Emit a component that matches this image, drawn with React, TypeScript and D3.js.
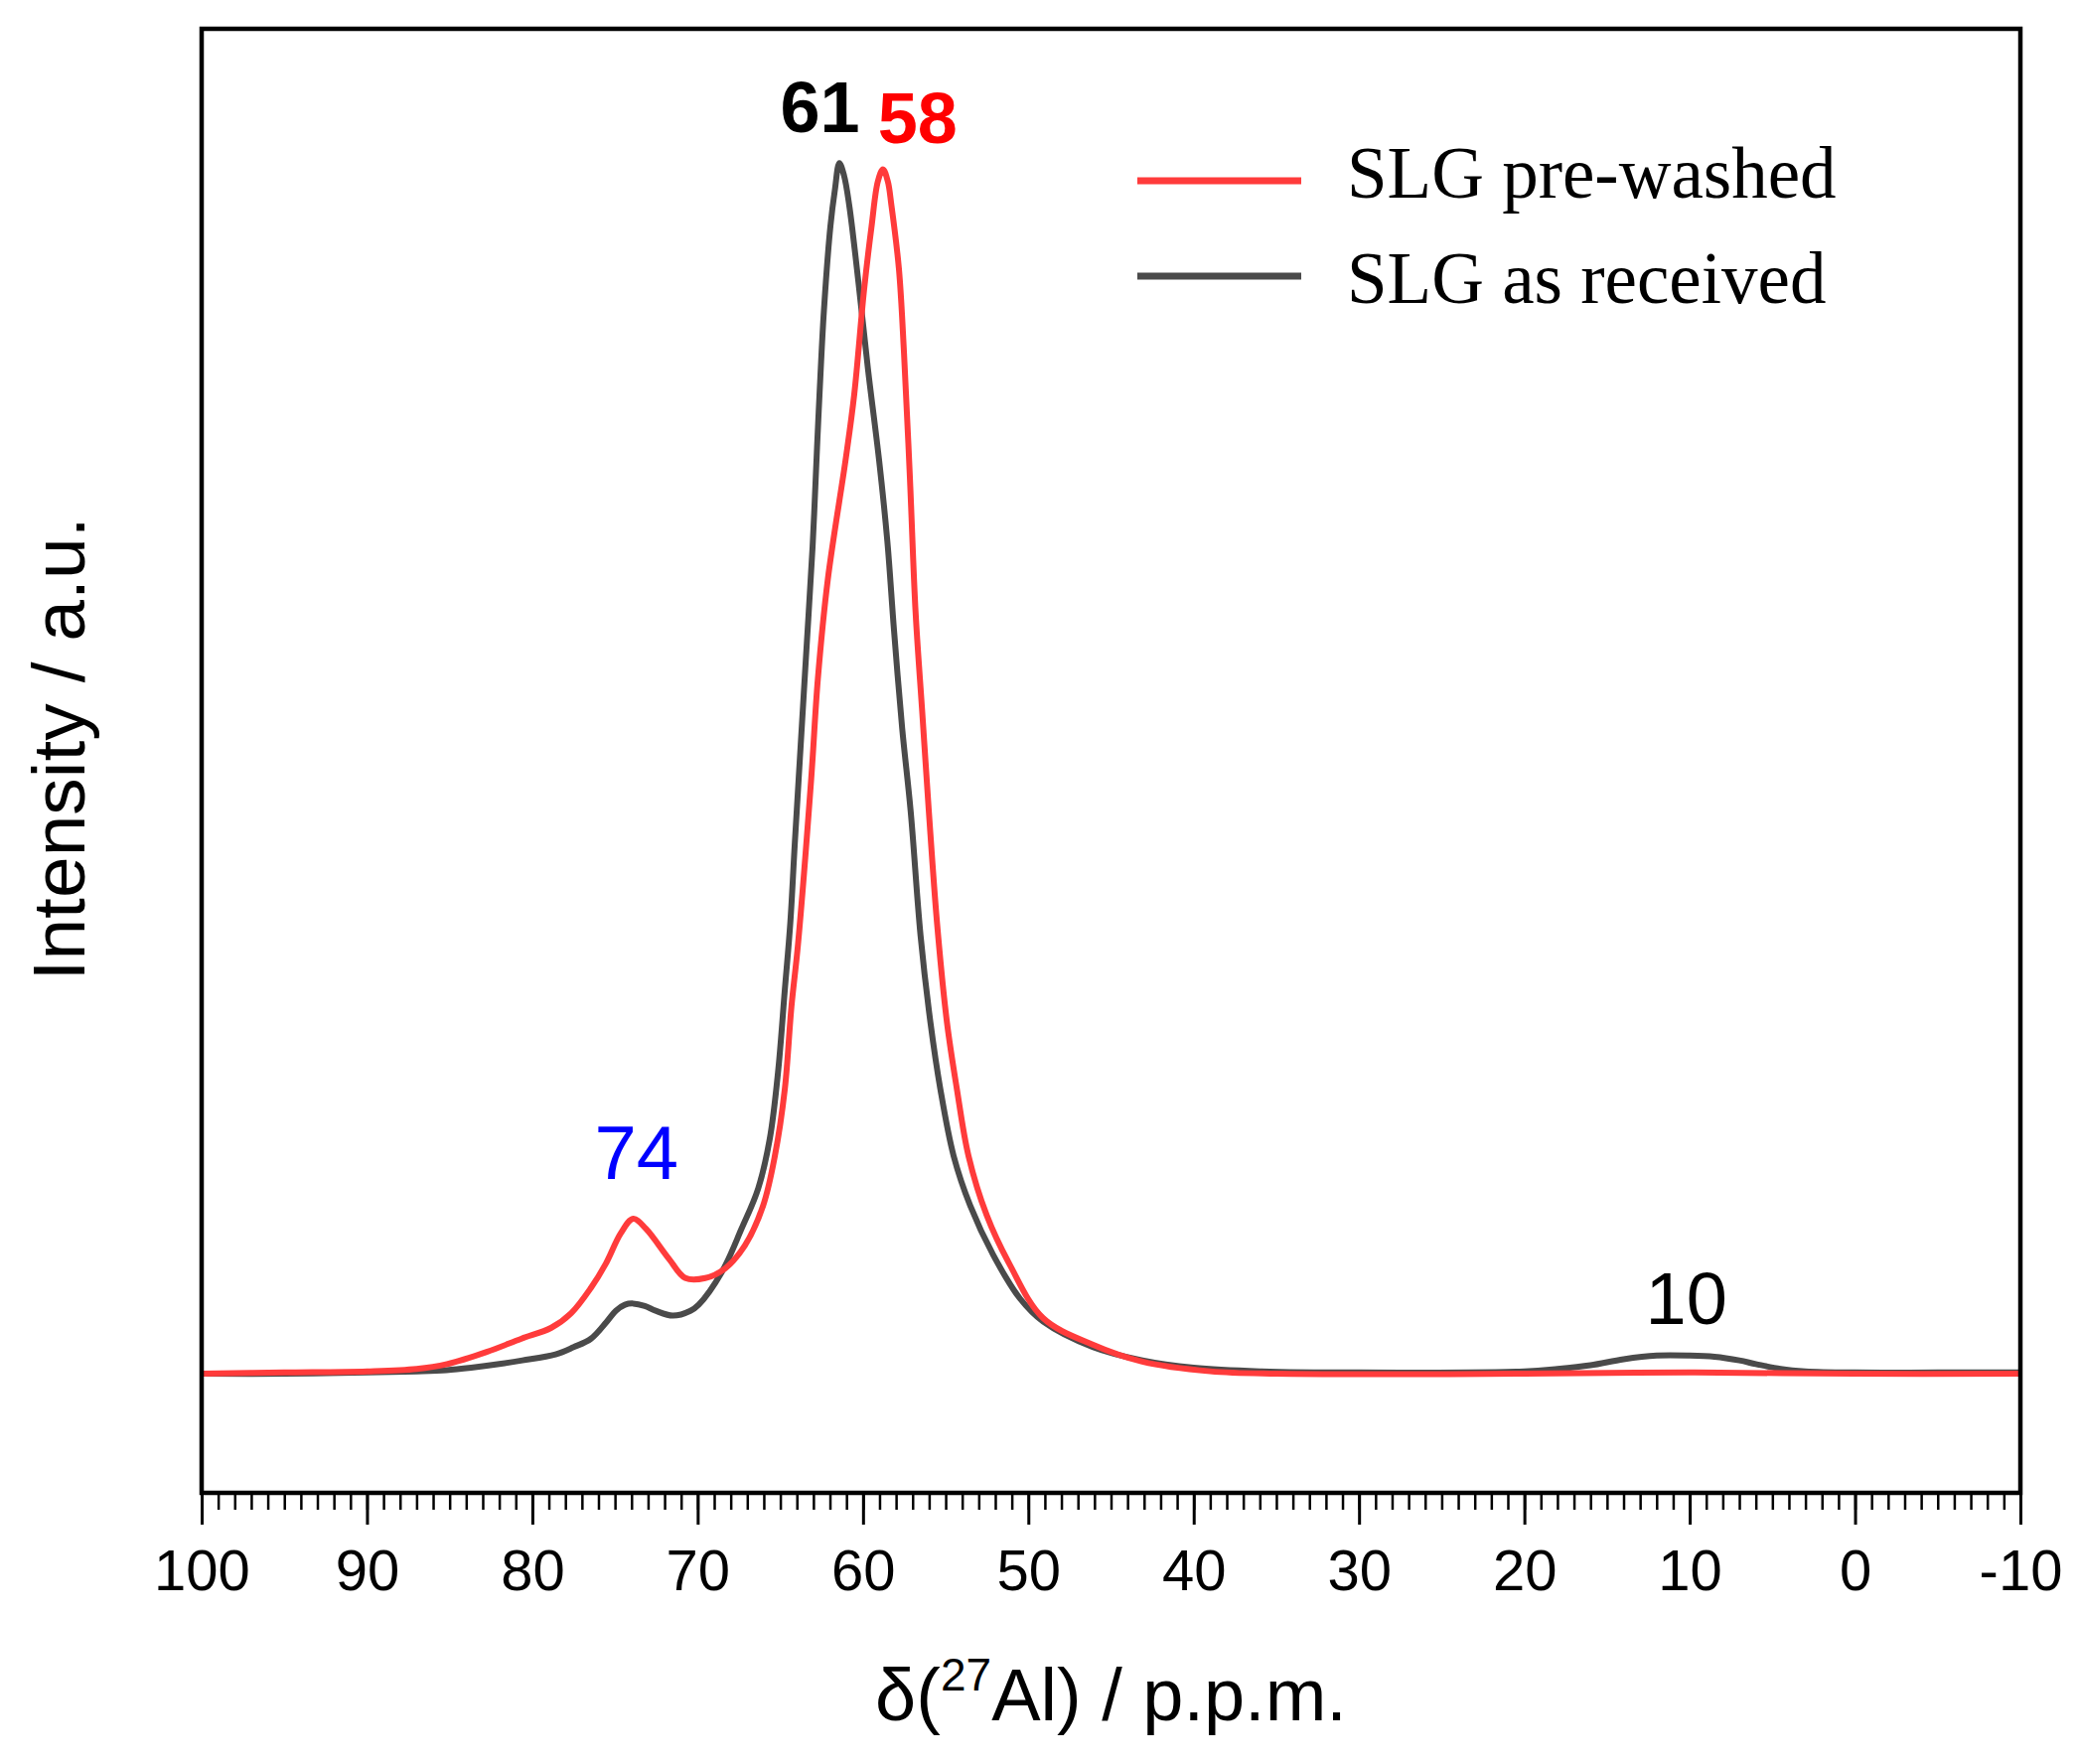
import { useEffect, useRef } from 'react';
import * as d3 from 'd3';

// SLG as received (grey trace): chemical shift (ppm) and normalised intensity
const asReceivedPpm = [
  100, 95, 90, 87, 85.2, 83.7, 82, 80.6, 78.6, 77.5, 76.45, 75.5, 74.95, 74.4, 73.9, 73.2,
  72.54, 71.5, 70.44, 69.94, 68.54, 67.34, 66.34, 65.64, 65.14, 64.73, 64.4, 64.13, 63.77,
  63.41, 63.05, 62.78, 62.63, 62.36, 61.97, 61.7, 61.43, 61.15, 60.83, 60.23, 59.7, 59.03,
  58.53, 58.13, 57.63, 57.12, 56.52, 55.92, 55.32, 54.52, 53.52, 52.12, 50.5, 49.1, 46.1,
  43.1, 40, 36, 30, 20, 18, 16, 14, 12, 10, 8.5, 7, 6, 4.5, 3, 0, -5, -10,
];
const asReceivedInt = [
  0.0, 0.0, 0.001, 0.002, 0.003, 0.005, 0.008, 0.011, 0.016, 0.022, 0.029, 0.043, 0.052, 0.057, 0.058, 0.056,
  0.052, 0.048, 0.052, 0.057, 0.084, 0.12, 0.153, 0.194, 0.249, 0.317, 0.372, 0.437, 0.519,
  0.601, 0.683, 0.765, 0.809, 0.879, 0.948, 0.978, 1.0, 0.99, 0.965, 0.896, 0.83, 0.755,
  0.688, 0.615, 0.533, 0.465, 0.362, 0.29, 0.235, 0.18, 0.139, 0.098, 0.062, 0.043, 0.022,
  0.011, 0.005, 0.002, 0.001, 0.002, 0.004, 0.007, 0.012, 0.015, 0.015, 0.014, 0.011, 0.008, 0.004, 0.002, 0.001, 0.001, 0.001,
];

// SLG pre-washed (red trace)
const preWashedPpm = [
  100, 95, 90, 87, 85.16, 82.76, 80.65, 78.85, 77.65, 76.45, 75.55, 74.65, 73.9, 73.14,
  71.74, 70.74, 69.54, 68.34, 67.14, 66.04, 65.33, 64.73, 64.33, 63.93, 63.13, 62.73, 62.13,
  61.03, 60.53, 59.93, 59.48, 59.1, 58.79, 58.5, 58.28, 57.83, 57.52, 57.16, 56.82, 56.42,
  56.02, 55.52, 54.92, 54.32, 53.62, 52.52, 51.12, 49.11, 46.11, 43.11, 39, 35, 20, 10, 0, -10,
];
const preWashedInt = [
  0.0, 0.001, 0.002, 0.004, 0.008, 0.018, 0.029, 0.038, 0.05, 0.071, 0.091, 0.116, 0.128, 0.12,
  0.095, 0.079, 0.079, 0.087, 0.106, 0.139, 0.18, 0.235, 0.303, 0.355, 0.492, 0.574, 0.656,
  0.757, 0.809, 0.896, 0.948, 0.985, 0.995, 0.985, 0.965, 0.913, 0.843, 0.739, 0.629, 0.547,
  0.465, 0.372, 0.29, 0.235, 0.18, 0.131, 0.09, 0.046, 0.024, 0.01, 0.002, 0.0, 0.0, 0.001, 0.0, 0.0,
];

const majorTicks = [100, 90, 80, 70, 60, 50, 40, 30, 20, 10, 0, -10];
const majorTickLabels = ['100', '90', '80', '70', '60', '50', '40', '30', '20', '10', '0', '-10'];

const legendLabels = ['SLG pre-washed', 'SLG as received'];

const peakLabels = ['61', '58', '74', '10'];
const peakLabelPpm = [62.6, 56.7, 73.7, 10.2];
const peakLabelLevel = [1.026, 1.017, 0.161, 0.041];

const RED = '#ff3b3b';
const GREY = '#4a4a4a';

export default function App() {
  const svgRef = useRef<SVGSVGElement>(null);

  useEffect(() => {
    if (!svgRef.current) return;
    const width = 2092;
    const height = 1776;
    const plot = { left: 203, right: 2034, top: 29, bottom: 1503 };

    const svg = d3.select(svgRef.current);
    svg.selectAll('*').remove();
    svg.attr('width', width).attr('height', height);

    svg.append('rect')
      .attr('width', width)
      .attr('height', height)
      .attr('fill', '#ffffff');

    const xScale = d3.scaleLinear().domain([100, -10]).range([plot.left, plot.right]);
    const yScale = d3.scaleLinear().domain([-0.0984, 1.111]).range([plot.bottom, plot.top]);

    const sans = "'Liberation Sans', Arial, Helvetica, sans-serif";
    const serif = "'Liberation Serif', 'Times New Roman', serif";

    // spectra
    const line = d3.line<[number, number]>()
      .x(d => xScale(d[0]))
      .y(d => yScale(d[1]))
      .curve(d3.curveCatmullRom.alpha(0.5));

    const grey = asReceivedPpm.map((p, i) => [p, asReceivedInt[i]] as [number, number]);
    const red = preWashedPpm.map((p, i) => [p, preWashedInt[i]] as [number, number]);

    svg.append('path')
      .datum(grey)
      .attr('d', line)
      .attr('fill', 'none')
      .attr('stroke', GREY)
      .attr('stroke-width', 6)
      .attr('stroke-linejoin', 'round');

    svg.append('path')
      .datum(red)
      .attr('d', line)
      .attr('fill', 'none')
      .attr('stroke', RED)
      .attr('stroke-width', 6)
      .attr('stroke-linejoin', 'round');

    // minor ticks every 1 ppm
    const minor = svg.append('g')
      .attr('transform', `translate(0,${plot.bottom})`)
      .call(d3.axisBottom(xScale)
        .tickValues(d3.range(100, -10.5, -1))
        .tickSize(17)
        .tickFormat(() => ''));
    minor.select('.domain').remove();
    minor.selectAll('line').attr('stroke', '#000').attr('stroke-width', 2.5);

    // major ticks with labels
    const major = svg.append('g')
      .attr('transform', `translate(0,${plot.bottom})`)
      .call(d3.axisBottom(xScale)
        .tickValues(majorTicks)
        .tickSize(32)
        .tickPadding(25)
        .tickFormat((_d, i) => majorTickLabels[i]));
    major.select('.domain').remove();
    major.selectAll('line').attr('stroke', '#000').attr('stroke-width', 3);
    major.selectAll('text')
      .attr('font-family', sans)
      .attr('font-size', 58)
      .attr('fill', '#000');

    // frame
    svg.append('rect')
      .attr('x', plot.left)
      .attr('y', plot.top)
      .attr('width', plot.right - plot.left)
      .attr('height', plot.bottom - plot.top)
      .attr('fill', 'none')
      .attr('stroke', '#000')
      .attr('stroke-width', 4.5);

    // axis titles
    const xTitle = svg.append('text')
      .attr('x', (plot.left + plot.right) / 2)
      .attr('y', 1732)
      .attr('text-anchor', 'middle')
      .attr('font-family', sans)
      .attr('font-size', 74)
      .attr('fill', '#000');
    xTitle.append('tspan').text('δ(');
    xTitle.append('tspan').attr('font-size', 46).attr('dy', -30).text('27');
    xTitle.append('tspan').attr('dy', 30).text('Al) / p.p.m.');

    svg.append('text')
      .attr('transform', `translate(85,${(plot.top + plot.bottom) / 2 - 12}) rotate(-90)`)
      .attr('text-anchor', 'middle')
      .attr('font-family', sans)
      .attr('font-size', 75)
      .attr('fill', '#000')
      .text('Intensity / a.u.');

    // peak labels
    const peakColors = ['#000000', '#ff0000', '#0000ff', '#000000'];
    const peakWeights = ['bold', 'bold', 'normal', 'normal'];
    const peakSizes = [72, 72, 76, 74];
    peakLabels.forEach((label, i) => {
      svg.append('text')
        .attr('x', xScale(peakLabelPpm[i]))
        .attr('y', yScale(peakLabelLevel[i]))
        .attr('text-anchor', 'middle')
        .attr('font-family', sans)
        .attr('font-size', peakSizes[i])
        .attr('font-weight', peakWeights[i])
        .attr('fill', peakColors[i])
        .text(label);
    });

    // legend
    const legendColors = [RED, GREY];
    legendLabels.forEach((label, i) => {
      const row = svg.append('g').attr('transform', `translate(1145,${182 + i * 96})`);
      row.append('line')
        .attr('x1', 0)
        .attr('x2', 165)
        .attr('y1', 0)
        .attr('y2', 0)
        .attr('stroke', legendColors[i])
        .attr('stroke-width', 7);
      row.append('text')
        .attr('x', 211)
        .attr('y', 17 + i * 10)
        .attr('font-family', serif)
        .attr('font-size', 73)
        .attr('fill', '#000')
        .text(label);
    });
  }, []);

  return (
    <svg ref={svgRef} style={{ position: 'absolute', left: 0, top: 0, display: 'block' }} />
  );
}
